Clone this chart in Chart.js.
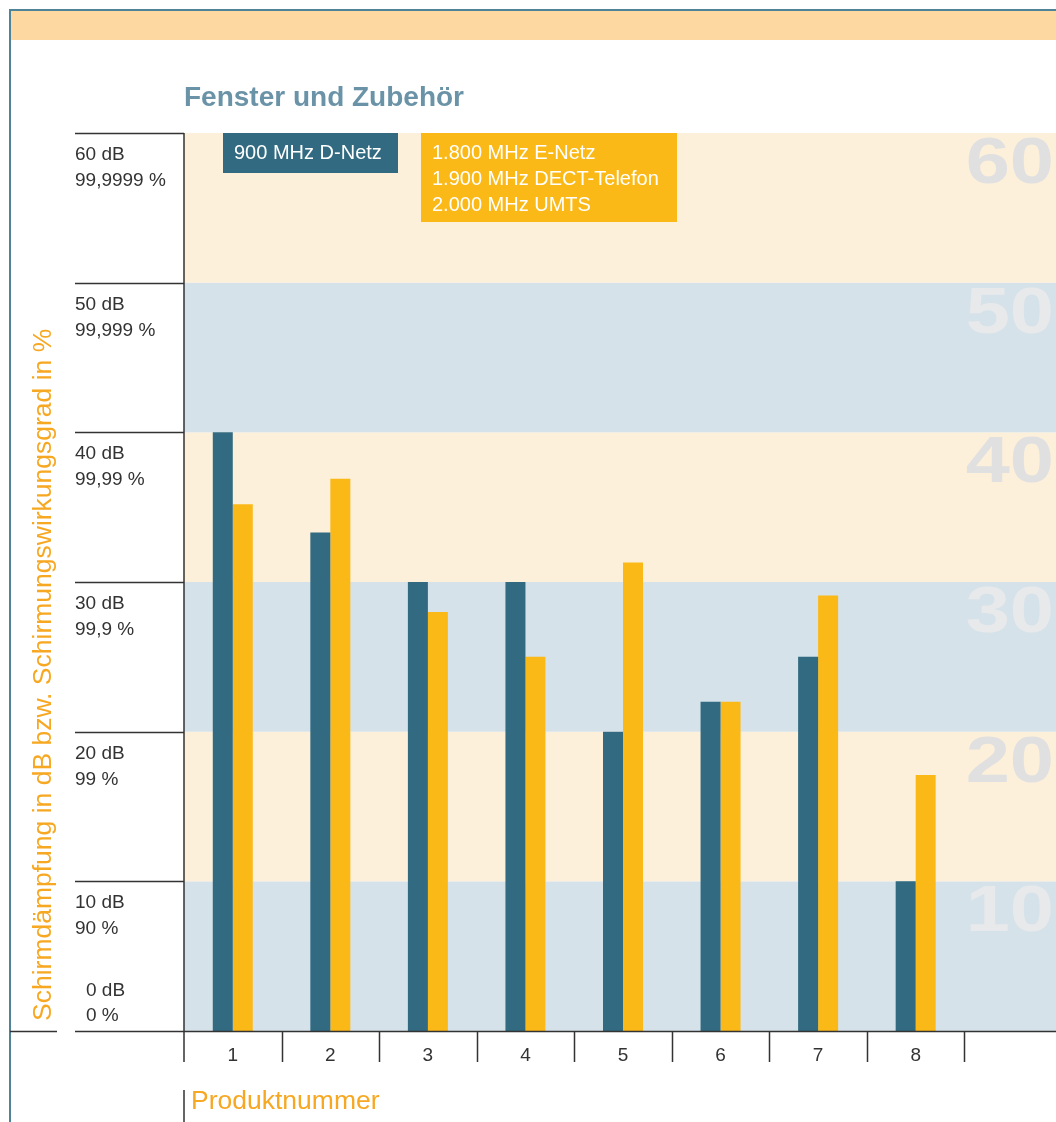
<!DOCTYPE html>
<html lang="de">
<head>
<meta charset="utf-8">
<title>Fenster und Zubehör</title>
<script src="https://cdn.jsdelivr.net/npm/chart.js@4/dist/chart.umd.min.js"></script>
<style>
  html, body { margin: 0; padding: 0; background: #fff; overflow: hidden; }
  /* die leere neunte Spalte ragt im Original etwas über den Rand hinaus */
  #wrap { width: 1056px; height: 1122px; overflow: hidden; }
</style>
</head>
<body>
<div id="wrap"><canvas id="chart" width="1062" height="1122"></canvas></div>
<script>
// Produktnummern, die neunte Spalte bleibt im Original leer
const produkte = ['1', '2', '3', '4', '5', '6', '7', '8', ''];
// Schirmdämpfung in dB
const dNetz900 = [40, 33.3, 30, 30, 20, 22, 25, 10, null];
const hochfrequenz = [35.2, 36.9, 28, 25, 31.3, 22, 29.1, 17.1, null];

// Beschriftung der y-Achse
const dbTicks = [0, 10, 20, 30, 40, 50, 60];
const dbLabels = ['0 dB', '10 dB', '20 dB', '30 dB', '40 dB', '50 dB', '60 dB'];
const prozentLabels = ['0 %', '90 %', '99 %', '99,9 %', '99,99 %', '99,999 %', '99,9999 %'];

// Legendentexte
const legendeDunkel = ['900 MHz D-Netz'];
const legendeGelb = ['1.800 MHz E-Netz', '1.900 MHz DECT-Telefon', '2.000 MHz UMTS'];

const titel = 'Fenster und Zubehör';
const yTitel = 'Schirmdämpfung in dB bzw. Schirmungswirkungsgrad in %';
const xTitel = 'Produktnummer';

const PETROL = '#316a81';
const GELB = '#fbb918';
const CREME = '#fdf0da';
const HELLBLAU = '#d5e2e9';
const ORANGE = '#f7a823';
const LINIE = '#333333';
const FONT = '"Liberation Sans", Arial, sans-serif';
const RECHTS = 1056; // sichtbarer rechter Rand

// Bänder im Hintergrund + große graue Zahlen rechts
const hintergrund = {
    id: 'hintergrund',
    beforeDatasetsDraw(chart) {
        const { ctx, chartArea, scales: { y } } = chart;
        ctx.save();
        for (let i = 0; i < dbTicks.length - 1; i++) {
            const y0 = y.getPixelForValue(dbTicks[i]);
            const y1 = y.getPixelForValue(dbTicks[i + 1]);
            const blau = i % 2 === 0;
            ctx.fillStyle = blau ? HELLBLAU : CREME;
            ctx.fillRect(chartArea.left, y1, chartArea.right - chartArea.left, y0 - y1);
            // Zahl oben rechts im Band
            ctx.save();
            ctx.translate(RECHTS - 2, y1 + 50);
            ctx.scale(1.24, 1);
            ctx.font = 'bold 64px ' + FONT;
            ctx.textAlign = 'right';
            ctx.textBaseline = 'alphabetic';
            ctx.fillStyle = blau ? '#e8e9eb' : '#e0e0e1';
            ctx.fillText(String(dbTicks[i + 1]), 0, 0);
            ctx.restore();
        }
        ctx.restore();
    }
};

// Achsen, Beschriftungen, Legende, Rahmen
const beschriftung = {
    id: 'beschriftung',
    afterDraw(chart) {
        const { ctx, chartArea, scales: { x, y } } = chart;
        const nullY = y.getPixelForValue(0);
        ctx.save();

        // Rahmen links und oben, oranger Streifen
        ctx.fillStyle = '#fdd9a1';
        ctx.fillRect(11, 11, chart.width - 11, 29);
        ctx.strokeStyle = '#4f8397';
        ctx.lineWidth = 2;
        ctx.beginPath();
        ctx.moveTo(10, chart.height);
        ctx.lineTo(10, 10);
        ctx.lineTo(chart.width, 10);
        ctx.stroke();

        // Titel
        ctx.fillStyle = '#6a93a7';
        ctx.font = 'bold 28px ' + FONT;
        ctx.textAlign = 'left';
        ctx.textBaseline = 'alphabetic';
        ctx.fillText(titel, 184, 106);

        // Linien der y-Achse
        ctx.strokeStyle = LINIE;
        ctx.lineWidth = 1.5;
        ctx.beginPath();
        dbTicks.forEach(v => {
            const py = Math.round(y.getPixelForValue(v)) + 0.5;
            ctx.moveTo(75, py);
            ctx.lineTo(v === 0 ? chart.width : chartArea.left, py);
        });
        ctx.moveTo(10, Math.round(nullY) + 0.5);
        ctx.lineTo(57, Math.round(nullY) + 0.5);
        ctx.moveTo(chartArea.left, chartArea.top);
        ctx.lineTo(chartArea.left, nullY + 31);
        // Teilstriche zwischen den Produkten
        const breite = (chartArea.right - chartArea.left) / produkte.length;
        for (let i = 1; i < produkte.length; i++) {
            const px = Math.round(x.getPixelForValue(i) - breite / 2) + 0.5;
            ctx.moveTo(px, nullY);
            ctx.lineTo(px, nullY + 31);
        }
        ctx.moveTo(chartArea.left, 1090);
        ctx.lineTo(chartArea.left, chart.height);
        ctx.stroke();

        // Beschriftung links
        ctx.fillStyle = LINIE;
        ctx.font = '19px ' + FONT;
        dbTicks.forEach((v, i) => {
            const py = y.getPixelForValue(v);
            if (v === 0) {
                ctx.fillText(dbLabels[i], 86, py - 35);
                ctx.fillText(prozentLabels[i], 86, py - 10);
            } else {
                ctx.fillText(dbLabels[i], 75, py + 27);
                ctx.fillText(prozentLabels[i], 75, py + 53);
            }
        });

        // Produktnummern
        ctx.textAlign = 'center';
        ctx.textBaseline = 'middle';
        produkte.forEach((p, i) => {
            ctx.fillText(p, x.getPixelForValue(i), nullY + 25);
        });

        // Achsentitel
        ctx.fillStyle = ORANGE;
        ctx.font = '26.5px ' + FONT;
        ctx.textAlign = 'left';
        ctx.textBaseline = 'alphabetic';
        ctx.fillText(xTitel, 191, 1109);
        ctx.save();
        ctx.translate(51, 1021);
        ctx.rotate(-Math.PI / 2);
        ctx.fillText(yTitel, 0, 0);
        ctx.restore();

        // Legende
        ctx.font = '20px ' + FONT;
        ctx.textBaseline = 'middle';
        ctx.fillStyle = PETROL;
        ctx.fillRect(223, chartArea.top, 175, 40);
        ctx.fillStyle = '#ffffff';
        legendeDunkel.forEach((t, i) => ctx.fillText(t, 234, chartArea.top + 20 + i * 26));
        ctx.fillStyle = GELB;
        ctx.fillRect(421, chartArea.top, 256, 89);
        ctx.fillStyle = '#ffffff';
        legendeGelb.forEach((t, i) => ctx.fillText(t, 432, chartArea.top + 20 + i * 26));

        ctx.restore();
    }
};

new Chart(document.getElementById('chart'), {
    type: 'bar',
    data: {
        labels: produkte,
        datasets: [
            { label: legendeDunkel[0], data: dNetz900, backgroundColor: PETROL },
            { label: legendeGelb.join(', '), data: hochfrequenz, backgroundColor: GELB }
        ]
    },
    options: {
        responsive: false,
        animation: false,
        devicePixelRatio: 1,
        categoryPercentage: 0.41,
        barPercentage: 1,
        layout: { padding: { left: 184, right: 0, top: 133, bottom: 91 } },
        scales: {
            x: { display: false },
            y: { display: false, min: 0, max: 60 }
        },
        plugins: {
            legend: { display: false },
            tooltip: { enabled: false }
        }
    },
    plugins: [hintergrund, beschriftung]
});
</script>
</body>
</html>
